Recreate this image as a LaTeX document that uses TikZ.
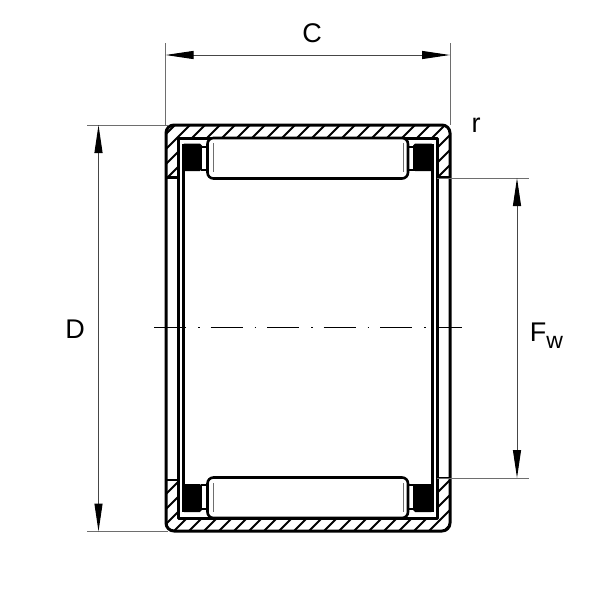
\documentclass[tikz,border=0pt]{standalone}
\usepackage{fontspec}
\setmainfont{Liberation Sans}
\usetikzlibrary{arrows.meta}
\definecolor{dim_gray}{RGB}{70,70,70}
\definecolor{line_gray}{RGB}{110,110,110}

\newcommand\hatching{
    \foreach \s in {-600,-585,...,600} {\draw[hatch] (\s,600) -- (\s+600,0);}
}

\begin{document}
\begin{tikzpicture}[x=1pt,y=-1pt]
    \tikzstyle{label}=[inner sep=0pt, text=black, font=\fontsize{27}{27}\selectfont]
    \tikzstyle{shell}=[draw=black, line width=3pt, line join=round]
    \tikzstyle{thick}=[draw=black, line width=2.4pt]
    \tikzstyle{hatch}=[draw=black, line width=1.8pt]
    \tikzstyle{dim}=[draw=dim_gray, line width=1pt]
    \tikzstyle{ext}=[draw=line_gray, line width=1pt]
    \tikzstyle{both}=[{Triangle[length=28pt,width=8pt,black]}-{Triangle[length=28pt,width=8pt,black]}]
    \tikzstyle{roller}=[draw=black, line width=2.6pt, fill=white, rounded corners=6pt]
    \tikzstyle{seal}=[draw=black, line width=2pt, fill=black, rounded corners=1.5pt]
    \tikzstyle{spacer}=[draw=black, line width=1.6pt, fill=white]
    \tikzstyle{crown}=[draw=line_gray, line width=1pt]

    \useasboundingbox[fill=white] (0,0) rectangle (600,600);

    % shell hatching, top and bottom
    \begin{scope}
        \clip (166,177.5) -- (166,125) -- (450,125) -- (450,177.5) -- (437,177.5) -- (437,138) -- (178,138) -- (178,177.5) -- cycle;
        \hatching
    \end{scope}
    \begin{scope}
        \clip (166,480) -- (166,531) -- (450,531) -- (450,478) -- (437,478) -- (437,518) -- (178,518) -- (178,480) -- cycle;
        \hatching
    \end{scope}
    % corners outside the rounded outline
    \begin{scope}
        \clip (160,118) rectangle (456,538);
        \draw[draw=white,line width=6pt,rounded corners=11pt] (163,328) -- (163,122) -- (453,122) -- (453,534) -- (163,534) -- cycle;
    \end{scope}

    % shell
    \draw[shell,rounded corners=8pt] (166,328) -- (166,125) -- (450,125) -- (450,531) -- (166,531) -- cycle;
    \draw[shell] (178,518) -- (178,138) -- (437,138) -- (437,518) -- cycle;
    \draw[thick] (166,177.5) -- (178,177.5);
    \draw[thick] (437,177.5) -- (450,177.5);
    \draw[thick] (166,480) -- (178,480);
    \draw[thick] (437,478) -- (450,478);

    % cage and seals
    \draw[shell] (183,144) -- (183,512);
    \draw[shell] (432.5,144) -- (432.5,512);
    \fill[seal] (183,144.5) rectangle (201,170);
    \fill[seal] (414,144.5) rectangle (432.5,170);
    \fill[seal] (183,485) rectangle (201,511);
    \fill[seal] (414,485) rectangle (432.5,511);
    \draw[spacer] (201.5,147) rectangle (208,170);
    \draw[spacer] (408,147) rectangle (414,170);
    \draw[spacer] (201.5,485) rectangle (208,509);
    \draw[spacer] (408,485) rectangle (414,509);

    % rollers
    \draw[roller] (207.5,138) rectangle (408,178.5);
    \draw[roller] (207.5,477.5) rectangle (408,518);
    \draw[crown] (213,143) -- (213,172);
    \draw[crown] (403,143) -- (403,172);
    \draw[crown] (213,483) -- (213,512);
    \draw[crown] (403,483) -- (403,512);

    % axis
    \coordinate (axl) at (154,327.7);
    \coordinate (axr) at (462,327.7);
    \draw[line width=1.1pt,draw=black,dash pattern=on 32pt off 12pt on 1.5pt off 11pt] (axl) -- (axr);

    % dimensions
    \coordinate (ct1) at (165.5,43);   \coordinate (cb1) at (165.5,125);
    \coordinate (ct2) at (450,43);     \coordinate (cb2) at (450,125);
    \coordinate (cl)  at (165.5,55);   \coordinate (cr)  at (450,55);
    \coordinate (dt1) at (87,125);     \coordinate (dt2) at (168,125);
    \coordinate (db1) at (87,531.5);   \coordinate (db2) at (168,531.5);
    \coordinate (dt)  at (98.5,125);   \coordinate (db)  at (98.5,531.5);
    \coordinate (ft1) at (437,178);    \coordinate (ft2) at (529,178);
    \coordinate (fb1) at (437,478);    \coordinate (fb2) at (529,478);
    \coordinate (ft)  at (517,178);    \coordinate (fb)  at (517,478);
    \path
     (ct1) edge[ext] (cb1)
     (ct2) edge[ext] (cb2)
     (dt1) edge[ext] (dt2)
     (db1) edge[ext] (db2)
     (ft1) edge[ext] (ft2)
     (fb1) edge[ext] (fb2)
     (cl)  edge[dim,both] (cr)
     (dt)  edge[dim,both] (db)
     (ft)  edge[dim,both] (fb)
     ;

    \node[label] (c) at (312,33)  {C};
    \node[label] (d) at (75,329)  {D};
    \node[label] (r) at (476,125) {r};
    \node[label] (f) at (546.5,336) {F\raisebox{-7pt}{\fontsize{23}{23}\selectfont w}};
\end{tikzpicture}
\end{document}
